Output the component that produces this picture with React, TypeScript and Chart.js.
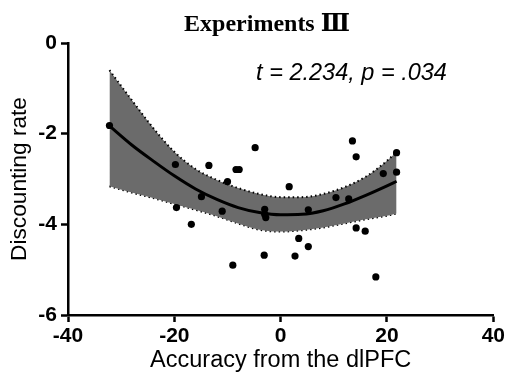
import React, { useEffect, useRef } from "react";
import { Chart, registerables } from "chart.js";

Chart.register(...registerables);

// Scatter observations (accuracy from dlPFC, discounting rate)
const pointX = [-32.2, -19.8, -19.6, -13.5, -16.8, -14.9, -11.0, -10.0, -8.4, -7.8, -9.0, -4.8, -3.0, -3.0, -2.8, -3.1, 1.6, 2.7, 3.4, 5.2, 5.2, 10.4, 12.8, 13.5, 14.2, 14.2, 15.9, 17.9, 19.3, 21.8, 21.8];
const pointY = [-1.82, -2.68, -3.63, -2.70, -4.0, -3.39, -3.71, -3.06, -2.79, -2.79, -4.90, -2.31, -3.67, -3.78, -3.85, -4.68, -3.17, -4.70, -4.31, -3.68, -4.49, -3.41, -3.44, -2.16, -2.51, -4.08, -4.15, -5.16, -2.88, -2.42, -2.85];

// Fitted curve and confidence band
const curveX = [-32.2, -28, -24, -20, -16, -12, -8, -4, 0, 4, 8, 12, 16, 20, 21.8];
const fitY = [-1.83, -2.25, -2.60, -2.93, -3.22, -3.45, -3.63, -3.74, -3.79, -3.78, -3.70, -3.55, -3.36, -3.15, -3.05];
const upperY = [-0.60, -1.26, -1.87, -2.40, -2.78, -3.02, -3.20, -3.33, -3.40, -3.40, -3.33, -3.18, -2.95, -2.60, -2.40];
const lowerY = [-3.16, -3.30, -3.42, -3.55, -3.68, -3.82, -3.98, -4.12, -4.16, -4.13, -4.07, -3.98, -3.89, -3.81, -3.76];

const xTicks = [-40, -20, 0, 20, 40];
const yTicks = [-6, -4, -2, 0];

const titleText = "Experiments \u2162";
const statText = "t = 2.234, p = .034";
const xTitle = "Accuracy from the dlPFC";
const yTitle = "Discounting rate";

const SANS = "'Liberation Sans', Arial, sans-serif";

const textPlugin = {
  id: "texts",
  afterDraw(chart: any) {
    const ctx = chart.ctx;
    ctx.save();
    ctx.fillStyle = "#000";
    ctx.textAlign = "center";
    ctx.textBaseline = "alphabetic";
    ctx.font = "bold 24px 'Liberation Serif', 'DejaVu Serif', serif";
    ctx.fillText(titleText, 267, 31);
    ctx.font = "italic 23.5px " + SANS;
    ctx.fillText(statText, 351.5, 80);
    ctx.restore();
  },
};

export default function App() {
  const ref = useRef<HTMLCanvasElement>(null);
  useEffect(() => {
    document.body.style.margin = "0";
    const toPts = (xs: number[], ys: number[]) => xs.map((x, i) => ({ x, y: ys[i] }));
    const chart = new Chart(ref.current!, {
      type: "scatter",
      data: {
        datasets: [
          {
            data: toPts(pointX, pointY),
            backgroundColor: "#000",
            borderColor: "#000",
            pointRadius: 3.6,
            pointBorderWidth: 0,
            showLine: false,
          },
          {
            data: toPts(curveX, fitY),
            showLine: true,
            borderColor: "#000",
            borderWidth: 3,
            pointRadius: 0,
            cubicInterpolationMode: "monotone",
            fill: false,
          },
          {
            data: toPts(curveX, upperY),
            showLine: true,
            borderColor: "#000",
            borderWidth: 2,
            borderDash: [1.5, 3],
            pointRadius: 0,
            cubicInterpolationMode: "monotone",
            backgroundColor: "#6b6b6b",
            fill: "+1",
          },
          {
            data: toPts(curveX, lowerY),
            showLine: true,
            borderColor: "#000",
            borderWidth: 2,
            borderDash: [1.5, 3],
            pointRadius: 0,
            cubicInterpolationMode: "monotone",
            fill: false,
          },
        ],
      } as any,
      options: {
        animation: false,
        responsive: false,
        maintainAspectRatio: false,
        layout: { padding: { top: 43, right: 11, left: 0, bottom: 0 } },
        plugins: {
          legend: { display: false },
          tooltip: { enabled: false },
          title: { display: false },
        },
        scales: {
          x: {
            type: "linear",
            min: -40,
            max: 40,
            afterBuildTicks: (s: any) => {
              s.ticks = xTicks.map((v) => ({ value: v }));
            },
            afterFit: (s: any) => {
              s.height = 62;
            },
            border: { color: "#000", width: 2.5 },
            grid: {
              drawOnChartArea: false,
              drawTicks: true,
              tickLength: 7,
              tickColor: "#000",
              tickWidth: 2.5,
            },
            ticks: {
              color: "#000",
              padding: 2,
              maxRotation: 0,
              font: { family: SANS, size: 21, weight: "bold" },
            },
            title: {
              display: true,
              text: xTitle,
              color: "#000",
              padding: { top: 0, bottom: 2 },
              font: { family: SANS, size: 23.5 },
            },
          },
          y: {
            type: "linear",
            min: -6,
            max: 0,
            afterBuildTicks: (s: any) => {
              s.ticks = yTicks.map((v) => ({ value: v }));
            },
            afterFit: (s: any) => {
              s.width = 68;
            },
            border: { color: "#000", width: 2.5 },
            grid: {
              drawOnChartArea: false,
              drawTicks: true,
              tickLength: 7,
              tickColor: "#000",
              tickWidth: 2.5,
            },
            ticks: {
              color: "#000",
              padding: 4,
              font: { family: SANS, size: 21, weight: "bold" },
            },
            title: {
              display: true,
              text: yTitle,
              color: "#000",
              padding: { top: 6, bottom: 0 },
              font: { family: SANS, size: 22.7 },
            },
          },
        },
      } as any,
      plugins: [textPlugin],
    });
    return () => chart.destroy();
  }, []);
  return <canvas ref={ref} width={507} height={377} style={{ display: "block" }} />;
}
